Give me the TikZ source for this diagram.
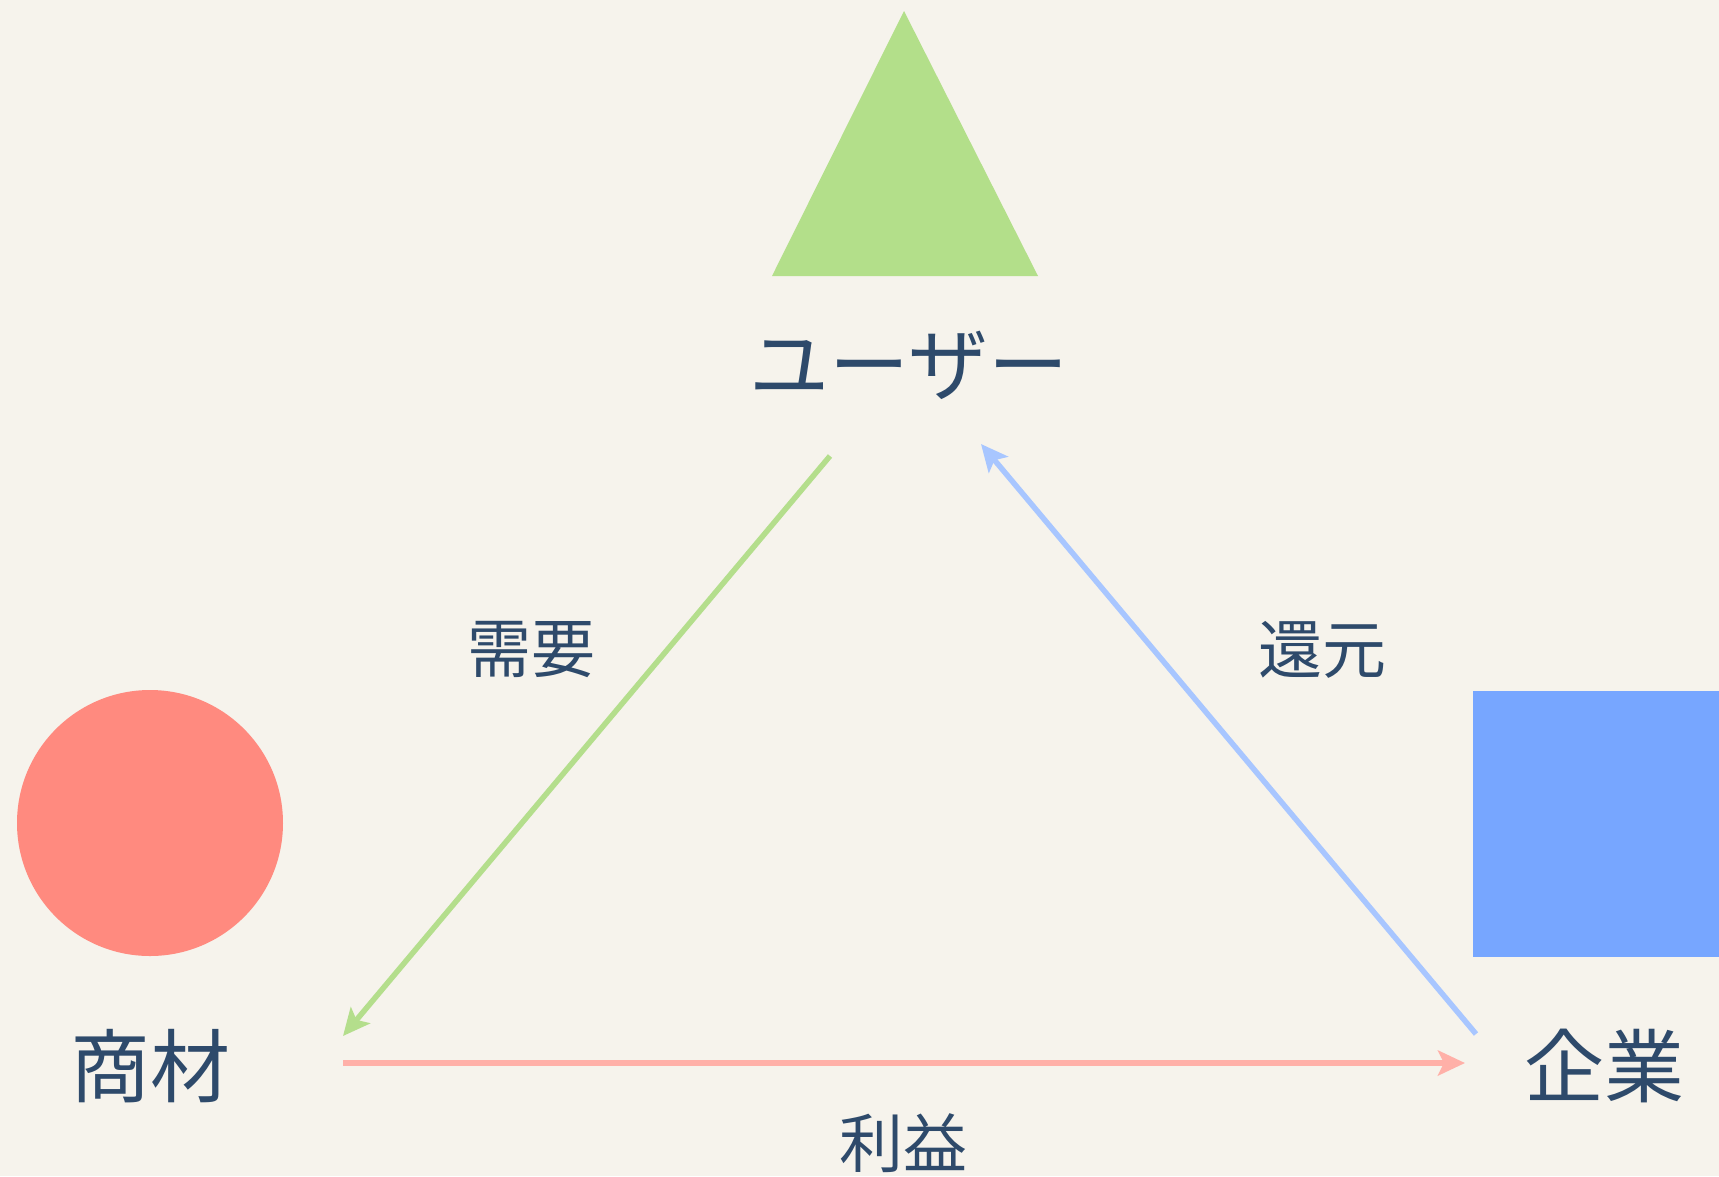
\documentclass[tikz,border=0pt]{standalone}
\usepackage{fontspec}
\setmainfont{Noto Sans CJK JP}
\usetikzlibrary{arrows.meta}
\definecolor{bg}{RGB}{246,243,236}
\definecolor{txt}{RGB}{46,74,107}
\definecolor{trifill}{RGB}{179,223,138}
\definecolor{circfill}{RGB}{255,138,127}
\definecolor{sqfill}{RGB}{119,166,255}
\definecolor{garrow}{RGB}{180,222,140}
\definecolor{barrow}{RGB}{168,198,255}
\definecolor{rarrow}{RGB}{255,176,168}
\tikzset{
  bigl/.style={text=txt,font=\fontsize{80}{88}\selectfont,inner sep=0pt},
  smalll/.style={text=txt,font=\fontsize{64}{70}\selectfont,inner sep=0pt},
  conn/.style={line width=5.5pt,-{Stealth[length=27pt,width=25pt,inset=6pt]}}
}
\begin{document}
\begin{tikzpicture}[x=1pt,y=-1pt]
\useasboundingbox (0,0) rectangle (1719,1176);
\fill[bg] (0,0) rectangle (1719,1176);
\fill[trifill] (904,11) -- (1038,276) -- (772,276) -- cycle;
\fill[circfill] (150,823) circle (133);
\fill[sqfill] (1473,691) rectangle (1719,957);
\node[bigl] (user) at (909,365) {ユーザー};
\node[bigl] (shozai) at (150,1066) {商材};
\node[bigl] (kigyo) at (1604,1066) {企業};
\node[smalll] (rieki) at (903,1143) {利益};
\node[smalll] (juyo) at (531,650) {需要};
\node[smalll] (kangen) at (1322,650) {還元};
\coordinate (g1) at (830,456);
\coordinate (g2) at (343,1036);
\coordinate (b1) at (1476,1034);
\coordinate (b2) at (981,444);
\coordinate (r1) at (343,1063);
\coordinate (r2) at (1465,1063);
\draw[conn,garrow] (g1) -- (g2);
\draw[conn,barrow] (b1) -- (b2);
\draw[conn,rarrow] (r1) -- (r2);
\end{tikzpicture}
\end{document}
